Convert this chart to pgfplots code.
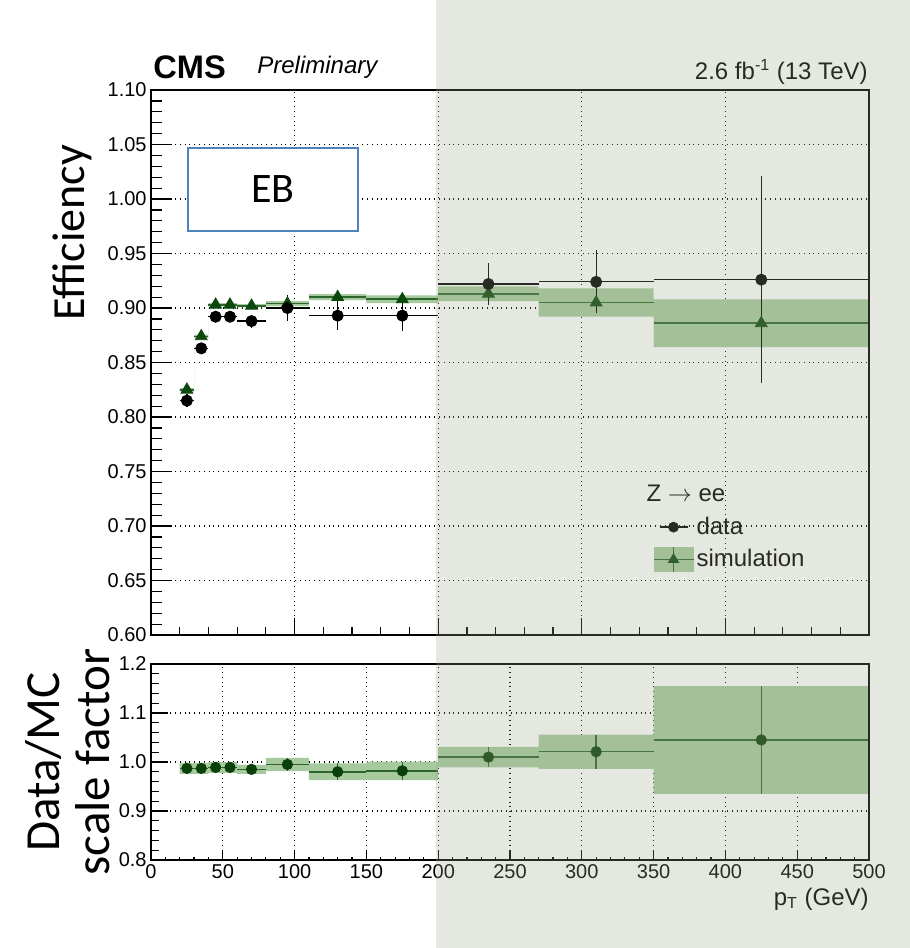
\documentclass[border=0pt]{standalone}
\usepackage{pgfplots}
\pgfplotsset{compat=1.18}
\usepackage{pgfplotstable}
\usepgfplotslibrary{fillbetween}
\usepackage{fontspec}
\setmainfont{Liberation Sans}
\newfontfamily\carlito{Carlito}
\definecolor{band}{RGB}{166,201,158}
\definecolor{simline}{RGB}{45,100,45}
\definecolor{tri}{RGB}{12,72,12}
\definecolor{sfc}{RGB}{10,65,10}
\definecolor{ebblue}{RGB}{79,129,189}
\definecolor{ovl}{RGB}{155,167,136}

% top panel: bin centres, half widths, data eff, error, simulation eff
\pgfplotstableread{
x   ex  eff   eeff  sim
25  5   0.815 0.006 0.825
35  5   0.863 0.005 0.874
45  5   0.892 0.004 0.903
55  5   0.892 0.004 0.903
70  10  0.888 0.006 0.902
95  15  0.900 0.012 0.904
130 20  0.893 0.013 0.910
175 25  0.893 0.014 0.908
235 35  0.922 0.019 0.913
310 40  0.924 0.029 0.905
425 75  0.926 0.095 0.886
}\pts
% simulation band (bin low edges)
\pgfplotstableread{
xe  y     e
20  0.825 0.0015
30  0.874 0.0015
40  0.903 0.0015
50  0.903 0.0015
60  0.902 0.0015
80  0.904 0.0022
110 0.910 0.0027
150 0.908 0.0035
200 0.913 0.0068
270 0.905 0.0130
350 0.886 0.0220
500 0.886 0.0220
}\simband
% scale factors
\pgfplotstableread{
x   ex  sf    esf
25  5   0.987 0.011
35  5   0.987 0.011
45  5   0.989 0.011
55  5   0.989 0.011
70  10  0.985 0.009
95  15  0.995 0.0135
130 20  0.980 0.017
175 25  0.982 0.019
235 35  1.010 0.021
310 40  1.021 0.035
425 75  1.045 0.110
}\sfpts
\pgfplotstableread{
xe  y     e
20  0.987 0.011
30  0.987 0.011
40  0.989 0.011
50  0.989 0.011
60  0.985 0.009
80  0.995 0.0135
110 0.980 0.017
150 0.982 0.019
200 1.010 0.021
270 1.021 0.035
350 1.045 0.110
500 1.045 0.110
}\sfband

\pgfplotsset{cms/.style={
  scale only axis, width=359pt,
  xmin=0, xmax=500,
  tick align=inside, tick pos=left,
  axis line style={line width=0.9pt, black},
  tick style={black, line width=0.6pt},
  major grid style={black, dotted, line width=0.6pt},
  ticklabel style={font=\fontsize{10}{12}\selectfont},
  yticklabel style={inner sep=2pt},
  xticklabel style={inner sep=2pt},
  /pgf/number format/assume math mode=true,
}}

\begin{document}
\begin{tikzpicture}

% ---------- top panel ----------
\begin{axis}[cms,
  name=top, at={(75.5pt,-45pt)}, anchor=north west, height=272.5pt,
  ymin=0.6, ymax=1.1,
  ytick={0.6,0.65,0.7,0.75,0.8,0.85,0.9,0.95,1.0,1.05,1.1},
  minor y tick num=4, grid=major,
  xtick={0,100,...,500}, xticklabels={}, xtick style={draw=none},
  major tick length=10.5pt, minor tick length=5.5pt,
  yticklabel style={/pgf/number format/.cd, fixed, fixed zerofill, precision=2},
  ylabel={Efficiency},
  ylabel style={font=\carlito\fontsize{23}{26}\selectfont, at={(axis description cs:-0.110,0.738)}, anchor=center},
  legend style={at={(axis description cs:0.691,0.288)}, anchor=north west, draw=none, fill=none,
    font=\fontsize{12}{14}\selectfont, row sep=3pt, nodes={inner sep=1.5pt}},
  legend cell align=left,
]
\addplot[draw=none, const plot, forget plot, name path=tu] table[x=xe, y expr=\thisrow{y}+\thisrow{e}]{\simband};
\addplot[draw=none, const plot, forget plot, name path=tl] table[x=xe, y expr=\thisrow{y}-\thisrow{e}]{\simband};
\addplot[band, forget plot] fill between[of=tu and tl];

\addplot[simline, only marks, mark=triangle*, mark size=3.4pt, mark options={fill=tri, draw=tri}, forget plot,
  error bars/.cd, x dir=both, x explicit, error mark=none, error bar style={simline, line width=0.8pt}]
  table[x=x, y=sim, x error=ex]{\pts};

\addplot[black, only marks, mark=*, mark size=2.8pt, forget plot,
  error bars/.cd, x dir=both, x explicit, y dir=both, y explicit, error mark=none,
  error bar style={black, line width=0.6pt}]
  table[x=x, y=eff, x error=ex, y error=eeff]{\pts};

\node[draw=ebblue, line width=0.9pt, fill=white, minimum width=85pt, minimum height=41.5pt,
  anchor=north west, font=\carlito\fontsize{21}{24}\selectfont]
  at (rel axis cs:0.0501,0.8954) {EB};

\addlegendimage{empty legend}
\addlegendentry{\hspace*{-25pt}Z $\rightarrow$ ee}
\addlegendimage{legend image code/.code={
  \path[draw=none, fill=none] (0pt,-6.25pt) rectangle (20pt,6.25pt);
  \fill[black, draw=none] (3pt,-0.35pt) rectangle (17pt,0.35pt);
  \fill[black, draw=none] (10pt,0pt) circle (2.7pt);}}
\addlegendentry{data}
\addlegendimage{legend image code/.code={
  \fill[band, draw=none] (0pt,-6.25pt) rectangle (20pt,6.25pt);
  \fill[simline, draw=none] (0pt,-0.35pt) rectangle (20pt,0.35pt);
  \fill[simline, draw=none] (9.65pt,-6.25pt) rectangle (10.35pt,6.25pt);
  \fill[tri, draw=none] (10pt,3.3pt) -- (7.1pt,-1.65pt) -- (12.9pt,-1.65pt) -- cycle;}}
\addlegendentry{simulation}
\end{axis}
% x ticks of the top panel
\begin{axis}[cms,
  at={(75.5pt,-45pt)}, anchor=north west, height=272.5pt,
  ymin=0.6, ymax=1.1, ytick=\empty,
  xtick={0,100,...,500}, minor x tick num=4, xticklabels={},
  major tick length=8.5pt, minor tick length=4pt,
]
\end{axis}

% ---------- bottom panel ----------
\begin{axis}[cms,
  name=bot, at={(75.5pt,-332pt)}, anchor=north west, height=98pt,
  ymin=0.8, ymax=1.2, ytick={0.8,0.9,1.0,1.1,1.2}, minor y tick num=4,
  grid=major,
  xtick={0,50,...,500}, xticklabels={}, xtick style={draw=none},
  major tick length=8.3pt, minor tick length=4.2pt,
  yticklabel style={/pgf/number format/.cd, fixed, fixed zerofill, precision=1},
  xlabel={p\textsubscript{T} (GeV)},
  xlabel style={font=\fontsize{12}{14}\selectfont, inner sep=0pt, at={(axis description cs:1,0)}, anchor=base east, yshift=-22.5pt},
  ylabel={Data/MC\\scale factor},
  ylabel style={align=center, font=\carlito\fontsize{24.5}{25}\selectfont, at={(axis description cs:-0.116,0.5)}, anchor=center},
]
\addplot[draw=none, const plot, forget plot, name path=su] table[x=xe, y expr=\thisrow{y}+\thisrow{e}]{\sfband};
\addplot[draw=none, const plot, forget plot, name path=sl] table[x=xe, y expr=\thisrow{y}-\thisrow{e}]{\sfband};
\addplot[band, forget plot] fill between[of=su and sl];

\addplot[sfc, only marks, mark=*, mark size=2.6pt, forget plot,
  error bars/.cd, x dir=both, x explicit, y dir=both, y explicit, error mark=none,
  error bar style={simline, line width=0.7pt}]
  table[x=x, y=sf, x error=ex, y error=esf]{\sfpts};
\end{axis}
% x ticks and labels of the bottom panel
\begin{axis}[cms,
  at={(75.5pt,-332pt)}, anchor=north west, height=98pt,
  ymin=0.8, ymax=1.2, ytick=\empty,
  xtick={0,50,...,500}, minor x tick num=4,
  major tick length=4.5pt, minor tick length=1.7pt,
]
\end{axis}

\node[anchor=base west, font=\bfseries\fontsize{16.3}{18}\selectfont, inner sep=0pt] at (76.5pt,-39pt) {CMS};
\node[anchor=base west, font=\itshape\fontsize{12}{14}\selectfont, inner sep=0pt] at (128.5pt,-36.7pt) {Preliminary};
\node[anchor=base east, font=\fontsize{12}{14}\selectfont, inner sep=0pt] at (434pt,-39.7pt) {2.6 fb\textsuperscript{-1} (13 TeV)};

\fill[ovl, opacity=0.26] (217.8pt,0pt) rectangle (455pt,-474pt);
\pgfresetboundingbox
\path (0pt,0pt) rectangle (455pt,-474pt);
\end{tikzpicture}
\end{document}
